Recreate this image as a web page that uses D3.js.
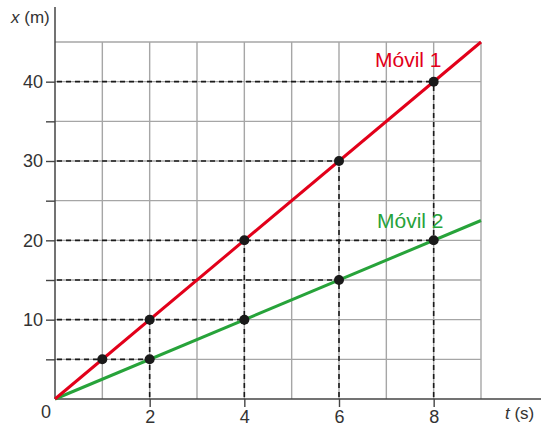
<!DOCTYPE html>
<html>
<head>
<meta charset="utf-8">
<script src="https://cdn.jsdelivr.net/npm/d3@7"></script>
<style>
  body { margin: 0; background: #fff; }
  svg { display: block; font-family: "Liberation Sans", Arial, sans-serif; }
</style>
</head>
<body>
<svg id="chart" width="541" height="428"></svg>
<script>
// data
const times = [0, 9];
const movil1 = [[1, 5], [2, 10], [4, 20], [6, 30], [8, 40]];
const movil2 = [[2, 5], [4, 10], [6, 15], [8, 20]];
const speed1 = 5, speed2 = 2.5;
const guideTimes = [2, 4, 6, 8];
const yTicks = [5, 10, 15, 20, 25, 30, 35, 40];
const xTicks = [2, 4, 6, 8];
const gridX = d3.range(1, 10);
const gridY = [5, 10, 15, 20, 25, 30, 35, 40, 45];

const svg = d3.select("#chart");
const x = d3.scaleLinear().domain([0, 9]).range([55, 481]);
const y = d3.scaleLinear().domain([0, 45]).range([399, 42]);

const red = "#e2001a", green = "#27a33a", gridCol = "#a6a6a6";
const fontFam = "Liberation Sans, Arial, sans-serif";

// grid
svg.append("g").selectAll("line").data(gridX).join("line")
    .attr("x1", d => x(d)).attr("x2", d => x(d))
    .attr("y1", y(0)).attr("y2", y(45))
    .attr("stroke", gridCol).attr("stroke-width", 1.4);
svg.append("g").selectAll("line").data(gridY).join("line")
    .attr("x1", x(0)).attr("x2", x(9))
    .attr("y1", d => y(d)).attr("y2", d => y(d))
    .attr("stroke", gridCol).attr("stroke-width", 1.4);

// dashed guides
const allPts = movil1.concat(movil2);
const hGuides = Array.from(d3.rollup(allPts, v => d3.max(v, p => p[0]), p => p[1]));
const vGuides = guideTimes.map(t => [t, d3.max(allPts.filter(p => p[0] === t), p => p[1])]);

const gGuide = svg.append("g").attr("stroke", "#1a1a1a").attr("stroke-width", 1.6).attr("stroke-dasharray", "5,4");
gGuide.selectAll(".h").data(hGuides).join("line")
    .attr("x1", x(0) + 2).attr("x2", d => x(d[1]))
    .attr("y1", d => y(d[0])).attr("y2", d => y(d[0]));
gGuide.selectAll(".v").data(vGuides).join("line")
    .attr("x1", d => x(d[0])).attr("x2", d => x(d[0]))
    .attr("y1", y(0) - 2).attr("y2", d => y(d[1]));

// axes
const yAxis = svg.append("g").attr("transform", `translate(${x(0)},0)`)
    .call(d3.axisLeft(y).tickValues(yTicks).tickSize(9).tickPadding(3)
        .tickFormat(d => d % 10 === 0 ? d : ""));
yAxis.select(".domain").remove();
yAxis.selectAll("line").attr("stroke", "#444").attr("stroke-width", 1.4);
yAxis.selectAll("text").attr("font-size", 18).attr("fill", "#333").attr("font-family", fontFam);

const xAxis = svg.append("g").attr("transform", `translate(0,${y(0)})`)
    .call(d3.axisBottom(x).tickValues(xTicks).tickSize(8).tickPadding(3));
xAxis.select(".domain").remove();
xAxis.selectAll("line").attr("stroke", "#444").attr("stroke-width", 1.4);
xAxis.selectAll("text").attr("font-size", 18).attr("fill", "#333").attr("font-family", fontFam);

svg.append("line").attr("x1", x(0)).attr("x2", 541).attr("y1", y(0)).attr("y2", y(0))
    .attr("stroke", "#444").attr("stroke-width", 1.5);
svg.append("line").attr("x1", x(0)).attr("x2", x(0)).attr("y1", y(0)).attr("y2", 7)
    .attr("stroke", "#444").attr("stroke-width", 1.5);

// lines
const line = d3.line().x(d => x(d[0])).y(d => y(d[1]));
svg.append("path").datum(times.map(t => [t, speed2 * t]))
    .attr("d", line).attr("stroke", green).attr("stroke-width", 3).attr("fill", "none");
svg.append("path").datum(times.map(t => [t, speed1 * t]))
    .attr("d", line).attr("stroke", red).attr("stroke-width", 3).attr("fill", "none");

// points
svg.append("g").selectAll("circle").data(allPts).join("circle")
    .attr("cx", d => x(d[0])).attr("cy", d => y(d[1])).attr("r", 5).attr("fill", "#1a1a1a");

// labels
svg.append("text").attr("x", 46).attr("y", 418).attr("text-anchor", "middle")
    .attr("font-size", 18).attr("fill", "#333").text("0");
const xl = svg.append("text").attr("x", 11).attr("y", 23).attr("font-size", 17).attr("fill", "#333");
xl.append("tspan").attr("font-style", "italic").text("x");
xl.append("tspan").text(" (m)");
const tl = svg.append("text").attr("x", 505).attr("y", 419).attr("font-size", 17).attr("fill", "#333");
tl.append("tspan").attr("font-style", "italic").text("t");
tl.append("tspan").text(" (s)");

svg.append("text").attr("x", 375).attr("y", 67).attr("font-size", 21).attr("fill", red).text("Móvil 1");
svg.append("text").attr("x", 377).attr("y", 228).attr("font-size", 21).attr("fill", green).text("Móvil 2");
</script>
</body>
</html>
